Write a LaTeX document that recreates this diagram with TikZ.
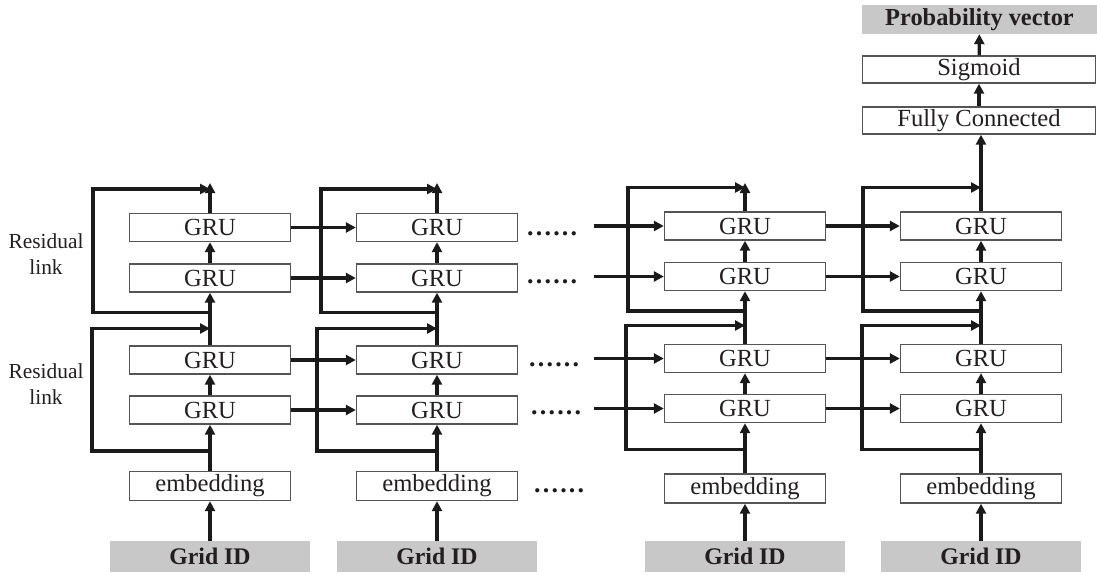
\documentclass[tikz,border=0pt]{standalone}
\usepackage{fontspec}
\setmainfont{Liberation Serif}
\usetikzlibrary{arrows.meta}

\definecolor{boxline}{HTML}{555555}
\definecolor{inkline}{HTML}{1A1A1A}
\definecolor{inputgray}{HTML}{C8C8C8}
\definecolor{txt}{HTML}{231F20}

% a row of six spaced dots
\newcommand{\dotsix}{.\kern2.2pt.\kern2.2pt.\kern2.2pt.\kern2.2pt.\kern2.2pt.}

\tikzset{
  layer/.style={draw=boxline, line width=1.4pt, fill=white, minimum width=161pt,
    minimum height=28pt, inner sep=0pt, font=\fontsize{24.6}{28}\selectfont, text=txt},
  embbox/.style={layer, minimum height=29pt},
  inputbox/.style={fill=inputgray, minimum width=200pt, minimum height=31pt,
    inner sep=0pt, font=\fontsize{23.8}{28}\selectfont\bfseries, text=txt},
  headbox/.style={layer, minimum width=233pt, minimum height=27pt},
  flow/.style={draw=inkline, line width=3.2pt, -{Triangle[length=10pt,width=10pt]}},
  dotrow/.style={anchor=base west, inner sep=0pt, font=\fontsize{26}{28}\selectfont\bfseries, text=inkline},
  sidelabel/.style={align=center, font=\fontsize{21.4}{26}\selectfont, text=txt}
}

\begin{document}
\begin{tikzpicture}[x=1pt, y=-1pt]
\useasboundingbox (0,0) rectangle (1097,574);

% four time steps: column, x position, row offset, embedding y, residual x (upper, lower)
\foreach \c/\x/\dy/\ey/\ua/\la in {1/210/0/486/93/92, 2/437/0/486/321/317,
                                   3/745/-1.5/488.5/628/626, 4/981/-1.5/488.5/863/862}{
  \node[layer] (g\c-1) at (\x, 227.5+\dy) {GRU};
  \node[layer] (g\c-2) at (\x, 278+\dy) {GRU};
  \node[layer] (g\c-3) at (\x, 360+\dy) {GRU};
  \node[layer] (g\c-4) at (\x, 410+\dy) {GRU};
  \node[embbox] (e\c) at (\x, \ey) {embedding};
  \node[inputbox] (id\c) at (\x, 556.5) {Grid ID};

  \draw[flow] (id\c) -- (e\c);
  \draw[flow] (e\c) -- (g\c-4);
  \draw[flow] (g\c-4) -- (g\c-3);
  \draw[flow] (g\c-3) -- (g\c-2);
  \draw[flow] (g\c-2) -- (g\c-1);

  % lower residual link
  \coordinate (lj\c) at (\x, 451+\dy);
  \coordinate (lc\c) at (\la, 328.5+2*\dy);
  \coordinate (lt\c) at (\x, 328.5+2*\dy);
  \draw[flow] (lj\c) -| (lc\c) -- (lt\c);

  % upper residual link
  \coordinate (uj\c) at (\x, 312.5+\dy);
  \coordinate (uc\c) at (\ua, 189+\dy);
  \coordinate (ut\c) at (\x, 189+\dy);
  \draw[flow] (uj\c) -| (uc\c) -- (ut\c);
}

% outputs of the first three steps
\foreach \c/\x in {1/210, 2/437, 3/745}{
  \coordinate (tp\c) at (\x, 183);
  \draw[flow] (g\c-1) -- (tp\c);
}

% recurrent connections between steps
\foreach \r in {1,2,3,4}{
  \draw[flow] (g1-\r.east) -- (g2-\r.west);
  \path (g3-\r.west) ++(-70,0) coordinate (s\r);
  \draw[flow] (s\r) -- (g3-\r.west);
  \draw[flow] (g3-\r.east) -- (g4-\r.west);
}

% omitted steps
\node[dotrow] (d1) at (527, 235) {\dotsix};
\node[dotrow] (d2) at (527, 283) {\dotsix};
\node[dotrow] (d3) at (529, 366) {\dotsix};
\node[dotrow] (d4) at (531, 414) {\dotsix};
\node[dotrow] (d5) at (534, 492) {\dotsix};

% side labels
\node[sidelabel] (rl1) at (46, 254.5) {Residual\\link};
\node[sidelabel] (rl2) at (46, 384) {Residual\\link};

% output head
\node[headbox] (fc) at (979, 120.5) {Fully Connected};
\node[headbox] (sg) at (979, 69.5) {Sigmoid};
\node[fill=inputgray, minimum width=235pt, minimum height=29pt, inner sep=0pt,
      font=\fontsize{24.4}{28}\selectfont\bfseries, text=txt] (pv) at (979.5, 19.5) {Probability vector};

\draw[flow] (g4-1.north) -- (g4-1.north |- fc.south);
\draw[flow] (fc) -- (sg);
\draw[flow] (sg) -- (pv);
\end{tikzpicture}
\end{document}
